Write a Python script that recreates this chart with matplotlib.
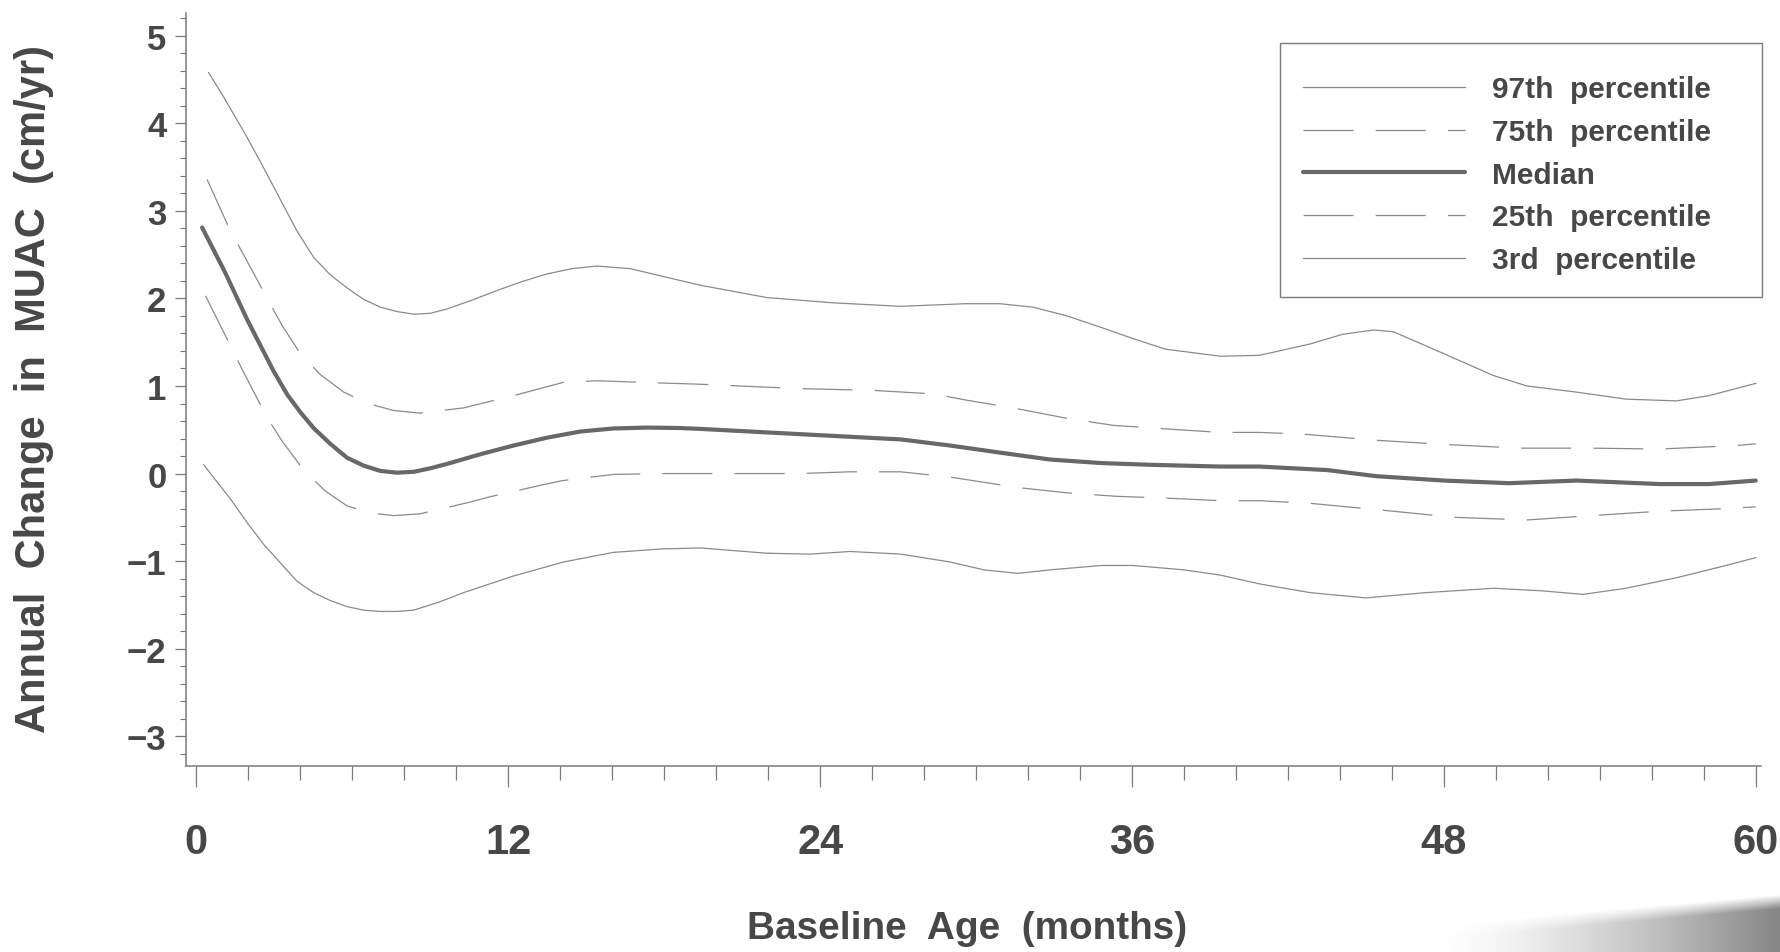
import numpy as np
import matplotlib
matplotlib.use("Agg")
import matplotlib.pyplot as plt
from matplotlib.ticker import MultipleLocator, FixedLocator, FixedFormatter
from matplotlib.patches import Rectangle

plt.rcParams["lines.scale_dashes"] = False

# ---- data: annual change in MUAC (cm/yr) by baseline age (months) ----
age_p97 = [0.47, 1.05, 1.95, 2.59, 3.23, 3.87, 4.51, 5.15, 5.8, 6.43, 7.08, 7.72,
           8.36, 9.0, 9.64, 10.6, 11.56, 12.5, 13.49, 14.45, 15.4, 16.7, 17.97,
           19.4, 21.95, 24.5, 27.1, 29.6, 30.9, 32.2, 33.5, 34.8, 36.05, 37.3,
           39.4, 40.9, 42.85, 44.1, 45.3, 46.05, 47.3, 48.6, 49.9, 51.2, 53.1,
           55.0, 56.95, 58.2, 60.0]
p97 = [4.58, 4.30, 3.84, 3.49, 3.13, 2.77, 2.47, 2.27, 2.12, 1.99, 1.90, 1.85,
       1.82, 1.83, 1.88, 1.98, 2.09, 2.19, 2.28, 2.34, 2.37, 2.34, 2.25,
       2.15, 2.01, 1.95, 1.91, 1.94, 1.94, 1.90, 1.80, 1.67, 1.54, 1.42,
       1.34, 1.35, 1.48, 1.59, 1.64, 1.62, 1.46, 1.29, 1.12, 1.00, 0.93,
       0.85, 0.83, 0.89, 1.03]

age_p75 = [0.41, 1.31, 1.76, 2.78, 3.3, 4.0, 4.77, 5.67, 6.6, 7.59, 8.6, 10.28,
           12.2, 14.1, 15.4, 17.3, 19.4, 23.2, 26.05, 28.35, 29.6, 31.6, 33.5,
           35.3, 37.3, 39.4, 40.9, 42.6, 45.4, 48.2, 50.9, 53.7, 56.3, 59.25, 60.0]
p75 = [3.36, 2.77, 2.53, 1.97, 1.69, 1.37, 1.13, 0.93, 0.80, 0.72, 0.69, 0.75,
       0.89, 1.04, 1.06, 1.04, 1.02, 0.97, 0.95, 0.91, 0.84, 0.74, 0.63,
       0.55, 0.51, 0.47, 0.47, 0.45, 0.38, 0.33, 0.29, 0.29, 0.28, 0.32, 0.34]

age_p50 = [0.22, 1.1, 1.95, 2.97, 3.5, 4.0, 4.51, 5.15, 5.8, 6.44, 7.08, 7.72,
           8.36, 9.0, 9.64, 10.92, 12.2, 13.49, 14.77, 16.05, 17.33, 18.6, 19.4,
           21.95, 25.15, 27.1, 29.0, 30.9, 32.85, 34.8, 36.7, 39.4, 40.9, 43.5,
           45.4, 48.0, 50.5, 53.1, 56.3, 58.2, 60.0]
p50 = [2.81, 2.30, 1.76, 1.17, 0.90, 0.70, 0.52, 0.34, 0.18, 0.09, 0.03, 0.01,
       0.02, 0.06, 0.11, 0.22, 0.32, 0.41, 0.48, 0.515, 0.525, 0.52, 0.51,
       0.47, 0.42, 0.39, 0.32, 0.24, 0.16, 0.12, 0.10, 0.08, 0.08, 0.04,
       -0.03, -0.08, -0.11, -0.08, -0.12, -0.12, -0.08]

age_p25 = [0.35, 1.31, 1.76, 2.72, 3.3, 4.1, 4.96, 5.8, 6.7, 7.59, 8.6, 10.47,
           11.37, 13.3, 14.1, 16.05, 17.97, 19.4, 23.2, 25.15, 27.1, 29.0, 31.6,
           33.5, 35.4, 37.3, 39.4, 40.9, 42.85, 45.7, 48.4, 51.2, 53.7, 56.3,
           58.9, 60.0]
p25 = [2.03, 1.46, 1.19, 0.64, 0.37, 0.05, -0.20, -0.37, -0.45, -0.48, -0.46, -0.33,
       -0.26, -0.13, -0.08, -0.01, 0.00, 0.00, 0.00, 0.02, 0.02, -0.04, -0.16,
       -0.22, -0.26, -0.28, -0.31, -0.31, -0.34, -0.42, -0.50, -0.53, -0.48, -0.43,
       -0.40, -0.38]

age_p03 = [0.28, 1.31, 1.95, 2.59, 3.23, 3.87, 4.51, 5.15, 5.8, 6.44, 7.08, 7.72,
           8.36, 9.32, 10.28, 12.2, 14.13, 16.05, 17.97, 19.4, 21.95, 23.6, 25.15,
           27.1, 29.0, 30.3, 31.6, 32.85, 34.8, 36.05, 38.0, 39.4, 40.9, 42.85,
           45.0, 47.3, 49.9, 51.8, 53.35, 55.0, 56.95, 58.85, 60.0]
p03 = [0.10, -0.29, -0.56, -0.81, -1.02, -1.23, -1.36, -1.45, -1.52, -1.56, -1.575, -1.575,
       -1.56, -1.47, -1.36, -1.17, -1.01, -0.90, -0.86, -0.85, -0.91, -0.92, -0.89,
       -0.92, -1.01, -1.10, -1.14, -1.10, -1.05, -1.05, -1.10, -1.16, -1.26, -1.36,
       -1.42, -1.36, -1.31, -1.34, -1.38, -1.31, -1.19, -1.05, -0.96]

series_labels = ["97th  percentile", "75th  percentile", "Median",
                 "25th  percentile", "3rd  percentile"]
x_ticks = [0, 12, 24, 36, 48, 60]
y_ticks = [-3, -2, -1, 0, 1, 2, 3, 4, 5]
y_tick_labels = ["\u22123", "\u22122", "\u22121", "0", "1", "2", "3", "4", "5"]

# ---- figure layout (pixel based) ----
W, H = 1781, 953
fig = plt.figure(figsize=(W / 100, H / 100), dpi=100, facecolor="white")
ax = fig.add_axes([186 / W, 1 - 767 / H, (1761 - 186) / W, (767 - 14) / H])
ax.set_xlim(-0.4, 60.2)
ax.set_ylim(-3.34, 5.26)

TEXT = "#474747"
THIN = "#8a8a8a"
MED = "#686868"
BOLD = ["Liberation Sans", "DejaVu Sans"]

dash = (36, 16)
style = dict(solid_joinstyle="round", dash_joinstyle="round")
h97, = ax.plot(age_p97, p97, color=THIN, lw=0.9, **style)
h75, = ax.plot(age_p75, p75, color=THIN, lw=0.9, dashes=dash, **style)
h50, = ax.plot(age_p50, p50, color=MED, lw=3.0, solid_capstyle="round", **style)
h25, = ax.plot(age_p25, p25, color=THIN, lw=0.9, dashes=dash, **style)
h03, = ax.plot(age_p03, p03, color=THIN, lw=0.9, **style)

for s in ("top", "right"):
    ax.spines[s].set_visible(False)
for s in ("left", "bottom"):
    ax.spines[s].set_color("#7a7a7a")
    ax.spines[s].set_linewidth(1.1)

ax.xaxis.set_major_locator(FixedLocator(x_ticks))
ax.xaxis.set_minor_locator(MultipleLocator(2))
ax.yaxis.set_major_locator(FixedLocator(y_ticks))
ax.yaxis.set_major_formatter(FixedFormatter(y_tick_labels))
ax.yaxis.set_minor_locator(MultipleLocator(0.2))

ax.tick_params(axis="x", which="major", direction="out", length=15, width=0.9,
               color="#7a7a7a", pad=25, labelsize=30, labelcolor=TEXT)
ax.tick_params(axis="x", which="minor", direction="out", length=10, width=0.9,
               color="#7a7a7a")
ax.tick_params(axis="y", which="major", direction="out", length=8, width=0.9,
               color="#7a7a7a", pad=6, labelsize=25, labelcolor=TEXT)
ax.tick_params(axis="y", which="minor", direction="out", length=4.5, width=0.8,
               color="#7a7a7a")
for lab in ax.get_xticklabels() + ax.get_yticklabels():
    lab.set_family(BOLD)
    lab.set_fontweight("bold")

# axis titles
ylab = fig.text(34 / W, 1 - 389 / H, "Annual  Change  in  MUAC  (cm/yr)",
                rotation=90, ha="center", va="center", fontsize=30,
                fontweight="bold", family=BOLD, color=TEXT)
xlab = fig.text(967 / W, 1 - 929 / H, "Baseline  Age  (months)",
                ha="center", va="center", fontsize=28,
                fontweight="bold", family=BOLD, color=TEXT)

# scale the titles to their intended extents
fig.canvas.draw()
r = fig.canvas.get_renderer()
bb = ylab.get_window_extent(r)
ylab.set_fontsize(30 * 688 / bb.height)
bb = xlab.get_window_extent(r)
xlab.set_fontsize(28 * 440 / bb.width)

# legend with a square frame
leg_fs = 21.5
fs_px = leg_fs * 100 / 72
leg = ax.legend([h97, h75, h50, h25, h03], series_labels,
                loc="upper left", bbox_to_anchor=(1303 / W, 1 - 76.5 / H),
                bbox_transform=fig.transFigure, frameon=False,
                borderpad=0, borderaxespad=0,
                handlelength=162 / fs_px, handletextpad=27 / fs_px,
                labelspacing=0.49,
                prop={"family": BOLD, "weight": "bold", "size": leg_fs})
for t in leg.get_texts():
    t.set_color(TEXT)
fig.patches.append(Rectangle((1280 / W, 1 - 298 / H), (1762 - 1280) / W,
                             (298 - 44) / H, transform=fig.transFigure,
                             fill=False, edgecolor="#7a7a7a", lw=1.0))

# page shadow in the lower right corner of the sheet
x0, y0 = 1440, 880
sw, sh = W - x0, H - y0
cols = np.arange(sw)[None, :]
rows = np.arange(sh)[:, None]
fx = cols / sw
edge = 45 - 30 * fx
fade = np.clip((rows - edge) / 14.0, 0, 1)
alpha = np.clip(fx, 0, 1) ** 1.4 * 0.72 * fade
shadow = np.zeros((sh, sw, 4))
shadow[..., :3] = 0.33
shadow[..., 3] = alpha
fig.figimage(shadow, xo=x0, yo=0, origin="upper", zorder=5)

fig.savefig("out.png", dpi=100, facecolor="white")
